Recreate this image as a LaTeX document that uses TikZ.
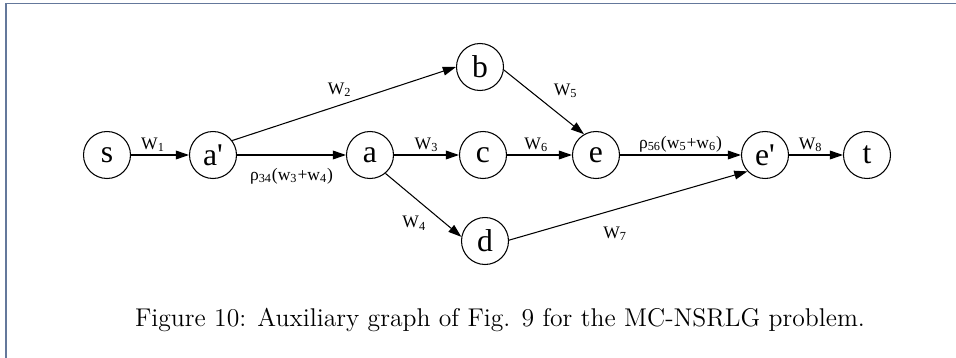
\documentclass[tikz,border=0pt]{standalone}
\usepackage{fontspec}
\newfontfamily\graphfont{Liberation Serif}
\usetikzlibrary{arrows.meta}
\definecolor{framegray}{RGB}{100,120,155}

\begin{document}
\begin{tikzpicture}[x=0.02cm,y=-0.02cm,>={Triangle[length=7.5pt,width=5pt]},
  vtx/.style={draw,circle,minimum size=0.94cm,inner sep=0pt,line width=0.6pt,
    font=\graphfont\fontsize{18}{20}\selectfont},
  wt/.style={font=\graphfont\fontsize{10}{12}\selectfont,inner sep=1.5pt},
  edge/.style={->,line width=0.6pt}]
\useasboundingbox (0,0) rectangle (956,358);
\draw[framegray,line width=0.8pt] (6,358) -- (6,3.5) -- (956,3.5);
% vertices
\node[vtx] (s)  at (107,155) {s};
\node[vtx] (ap) at (213,155) {a'};
\node[vtx] (a)  at (370,155) {a};
\node[vtx] (b)  at (480,67)  {b};
\node[vtx] (c)  at (483,155) {c};
\node[vtx] (d)  at (485,241) {d};
\node[vtx] (e)  at (596,155) {e};
\node[vtx] (ep) at (765,155) {e'};
\node[vtx] (t)  at (867,155) {t};
% arcs
\draw[edge] (s) -- node[wt,above,pos=0.38] {W\textsubscript{1}} (ap);
\draw[edge] (ap.37) -- node[wt,above=3pt,pos=0.48] {W\textsubscript{2}} (b.west);
\draw[edge] (ap) -- node[wt,below=5.5pt,pos=0.5] {ρ\textsubscript{34}(w\textsubscript{3}+w\textsubscript{4})} (a);
\draw[edge] (a) -- node[wt,above,pos=0.5] {W\textsubscript{3}} (c);
\draw[edge] (a.310) -- node[wt,below left=1pt,pos=0.6] {W\textsubscript{4}} (d.170);
\draw[edge] (b.353) -- node[wt,above right=2pt,pos=0.54] {W\textsubscript{5}} (e.120);
\draw[edge] (c) -- node[wt,above,pos=0.45] {W\textsubscript{6}} (e);
\draw[edge] (e) -- node[wt,above,pos=0.5] {ρ\textsubscript{56}(w\textsubscript{5}+w\textsubscript{6})} (ep);
\draw[edge] (d.2) -- node[wt,below=8pt,pos=0.445] {W\textsubscript{7}} (ep.223);
\draw[edge] (ep) -- node[wt,above,pos=0.4] {W\textsubscript{8}} (t);
\node (cap) at (500,320) {\fontsize{14.6}{17}\selectfont Figure 10: Auxiliary graph of Fig. 9 for the MC-NSRLG problem.};
\end{tikzpicture}
\end{document}
